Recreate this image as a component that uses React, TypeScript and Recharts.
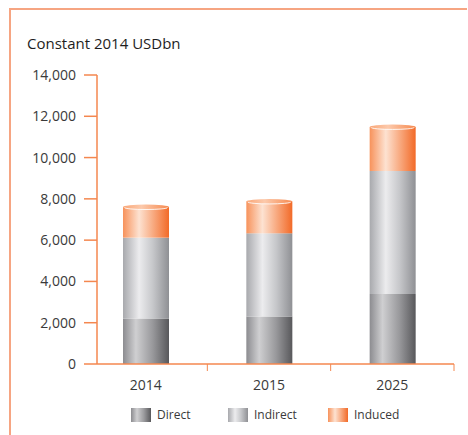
import { BarChart, Bar, XAxis, YAxis } from "recharts";

const years = ["2014", "2015", "2025"];
const direct = [2200, 2300, 3390];
const indirect = [3920, 4030, 5960];
const induced = [1480, 1540, 2130];
const yTicks = [0, 2000, 4000, 6000, 8000, 10000, 12000, 14000];
const seriesNames = ["Direct", "Indirect", "Induced"];

const data = years.map((year, i) => ({
  year,
  direct: direct[i],
  indirect: indirect[i],
  induced: induced[i],
}));

const ORANGE = "#f4874f";
const FONT = "'Open Sans', sans-serif";

const swatches = [
  "linear-gradient(90deg, #8c8c90 0%, #cfcfd1 30%, #9a9a9d 65%, #58585b 100%)",
  "linear-gradient(90deg, #a8a9ad 0%, #ececee 35%, #c6c7ca 65%, #8f9094 100%)",
  "linear-gradient(90deg, #f7925b 0%, #fde2d1 35%, #f8ab82 65%, #f26a28 100%)",
];

function XTick(props: any) {
  const { x, y, payload } = props;
  const half = payload && payload.offset ? payload.offset : 61.7;
  return (
    <g>
      <text x={x} y={y + 18} textAnchor="middle" fill="#3a3a3a" fontSize={14} fontFamily={FONT}>
        {payload.value}
      </text>
      <line x1={x + half} x2={x + half} y1={y - 8} y2={y - 1} stroke={ORANGE} strokeWidth={1} />
    </g>
  );
}

function InducedShape(props: any) {
  const { x, y, width, height } = props;
  if (!width || height == null) return null;
  const cx = x + width / 2;
  const ry = 2.6;
  return (
    <g>
      <rect x={x} y={y} width={width} height={height} fill="url(#gInduced)" />
      <ellipse cx={cx} cy={y} rx={width / 2} ry={ry} fill="url(#gCap)" />
      <path
        d={`M ${x + 1.5} ${y + 0.4} A ${width / 2 - 1.5} ${ry - 0.6} 0 0 0 ${x + width - 1.5} ${y + 0.4}`}
        fill="none"
        stroke="#ffffff"
        strokeOpacity={0.85}
        strokeWidth={1}
      />
    </g>
  );
}

export default function App() {
  return (
    <div style={{ position: "absolute", left: 0, top: 0, width: 468, height: 435, background: "#fff", fontFamily: FONT }}>
      {/* frame */}
      <div style={{ position: "absolute", left: 9, top: 8, width: 458, height: 2, background: "#f6a582" }} />
      <div style={{ position: "absolute", left: 9, top: 8, width: 2, height: 427, background: "#f6a582" }} />

      <div style={{ position: "absolute", left: 27, top: 33, fontSize: 15, color: "#1e1e1e", whiteSpace: "nowrap", lineHeight: "20px" }}>
        Constant 2014 USDbn
      </div>

      <div style={{ position: "absolute", left: 0, top: 0 }}>
        <BarChart width={468} height={435} data={data} margin={{ top: 75, right: 14, left: 0, bottom: 41 }}>
          <defs>
            <linearGradient id="gDirect" x1="0" y1="0" x2="1" y2="0">
              <stop offset="0%" stopColor="#8c8c90" />
              <stop offset="28%" stopColor="#cfcfd1" />
              <stop offset="65%" stopColor="#98989b" />
              <stop offset="100%" stopColor="#58585b" />
            </linearGradient>
            <linearGradient id="gIndirect" x1="0" y1="0" x2="1" y2="0">
              <stop offset="0%" stopColor="#a8a9ad" />
              <stop offset="35%" stopColor="#ececee" />
              <stop offset="65%" stopColor="#c6c7ca" />
              <stop offset="100%" stopColor="#8f9094" />
            </linearGradient>
            <linearGradient id="gInduced" x1="0" y1="0" x2="1" y2="0">
              <stop offset="0%" stopColor="#f7925b" />
              <stop offset="35%" stopColor="#fde2d1" />
              <stop offset="65%" stopColor="#f8ab82" />
              <stop offset="100%" stopColor="#f26a28" />
            </linearGradient>
            <linearGradient id="gCap" x1="0" y1="0" x2="1" y2="0">
              <stop offset="0%" stopColor="#f9a677" />
              <stop offset="40%" stopColor="#fcc9ab" />
              <stop offset="100%" stopColor="#f68a50" />
            </linearGradient>
          </defs>
          <XAxis
            dataKey="year"
            axisLine={{ stroke: ORANGE, strokeWidth: 1.5 }}
            tickLine={false}
            tick={<XTick />}
            padding={{ left: -13, right: 0 }}
            height={30}
            interval={0}
          />
          <YAxis
            type="number"
            domain={[0, 14000]}
            ticks={yTicks}
            interval={0}
            width={97}
            axisLine={{ stroke: ORANGE, strokeWidth: 1.5 }}
            tickLine={{ stroke: ORANGE, strokeWidth: 1.5 }}
            tickSize={13}
            tickMargin={8}
            tick={{ fill: "#3a3a3a", fontSize: 14, fontFamily: FONT }}
            tickFormatter={(v: number) => v.toLocaleString("en-US")}
          />
          <Bar dataKey="direct" name={seriesNames[0]} stackId="a" barSize={46} fill="url(#gDirect)" isAnimationActive={false} />
          <Bar dataKey="indirect" name={seriesNames[1]} stackId="a" barSize={46} fill="url(#gIndirect)" isAnimationActive={false} />
          <Bar dataKey="induced" name={seriesNames[2]} stackId="a" barSize={46} fill="url(#gInduced)" shape={<InducedShape />} isAnimationActive={false} />
        </BarChart>
      </div>

      {/* legend */}
      {seriesNames.map((name, i) => (
        <div
          key={name}
          style={{ position: "absolute", left: [131, 228, 328][i], top: 406, display: "flex", alignItems: "center", whiteSpace: "nowrap" }}
        >
          <div style={{ width: 20, height: 14, background: swatches[i] }} />
          <span style={{ marginLeft: 6, fontSize: 12, color: "#3a3a3a", lineHeight: "18px" }}>{name}</span>
        </div>
      ))}
    </div>
  );
}
